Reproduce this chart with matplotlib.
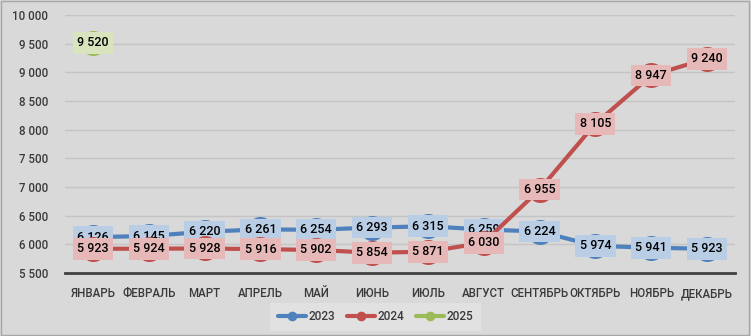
import matplotlib.pyplot as plt
from matplotlib.ticker import FuncFormatter

plt.rcParams['font.family'] = ['Roboto', 'DejaVu Sans']

months = ['ЯНВАРЬ', 'ФЕВРАЛЬ', 'МАРТ', 'АПРЕЛЬ', 'МАЙ', 'ИЮНЬ', 'ИЮЛЬ',
          'АВГУСТ', 'СЕНТЯБРЬ', 'ОКТЯБРЬ', 'НОЯБРЬ', 'ДЕКАБРЬ']
v2023 = [6126, 6145, 6220, 6261, 6254, 6293, 6315, 6259, 6224, 5974, 5941, 5923]
v2024 = [5923, 5924, 5928, 5916, 5902, 5854, 5871, 6030, 6955, 8105, 8947, 9240]
v2025 = [9520]

series = [
    ('2023', v2023, '#4f81bd', '#b9cde5', 3),
    ('2024', v2024, '#c0504d', '#e6b9b8', 4),
    ('2025', v2025, '#9bbb59', '#d7e4bd', 5),
]

bg = '#d9d9d9'
fig = plt.figure(figsize=(7.51, 3.36), dpi=100, facecolor=bg)
ax = fig.add_axes([0.0866, 0.1875, 0.892, 0.7675])
ax.set_facecolor(bg)

x = list(range(len(months)))
for name, vals, col, lab_col, z in series:
    xs = x[:len(vals)]
    ax.plot(xs, vals, color=col, lw=3, marker='o', ms=17, mfc=col, mec=col,
            label=name, zorder=z, solid_capstyle='round')
    for xi, v in zip(xs, vals):
        txt = f'{v:,}'.replace(',', ' ')
        ax.text(xi, v, txt, ha='center', va='center', fontsize=9,
                fontweight='medium', color='black', zorder=z + 0.5,
                bbox=dict(boxstyle='square,pad=0.35', fc=lab_col, ec='none'))

ax.set_xlim(-0.5, len(months) - 0.5)
ax.set_ylim(5500, 10000)
ax.set_yticks(range(5500, 10001, 500))
ax.yaxis.set_major_formatter(FuncFormatter(lambda v, p: f'{int(v):,}'.replace(',', ' ')))
ax.set_xticks(x)
ax.set_xticklabels(months)
ax.grid(axis='y', color='#c4c4c4', lw=1)
ax.set_axisbelow(True)
for s in ['top', 'right', 'left']:
    ax.spines[s].set_visible(False)
ax.spines['bottom'].set_color('#404040')
ax.spines['bottom'].set_linewidth(2)
ax.tick_params(length=0, labelsize=8.3, labelcolor='#3a3a3a')
ax.tick_params(axis='x', pad=10)
ax.tick_params(axis='y', pad=12)
for lab in ax.get_xticklabels() + ax.get_yticklabels():
    lab.set_fontweight('medium')

leg = fig.legend(loc='center', bbox_to_anchor=(0.5, 0.057), ncol=3, frameon=True,
                 fontsize=8.5, markerscale=0.35, handlelength=2.4, handletextpad=0.2,
                 columnspacing=1.0, borderpad=0.35)
leg.get_frame().set_facecolor('#e4e4e4')
leg.get_frame().set_edgecolor('none')
leg.get_frame().set_boxstyle('square')
for t in leg.get_texts():
    t.set_color('#3a3a3a')
    t.set_fontweight('medium')

fig.patches.append(plt.Rectangle((0.001, 0.002), 0.997, 0.995, transform=fig.transFigure,
                                 fill=False, ec='#a6a6a6', lw=1))

fig.savefig('out.png', dpi=100, facecolor=bg)
